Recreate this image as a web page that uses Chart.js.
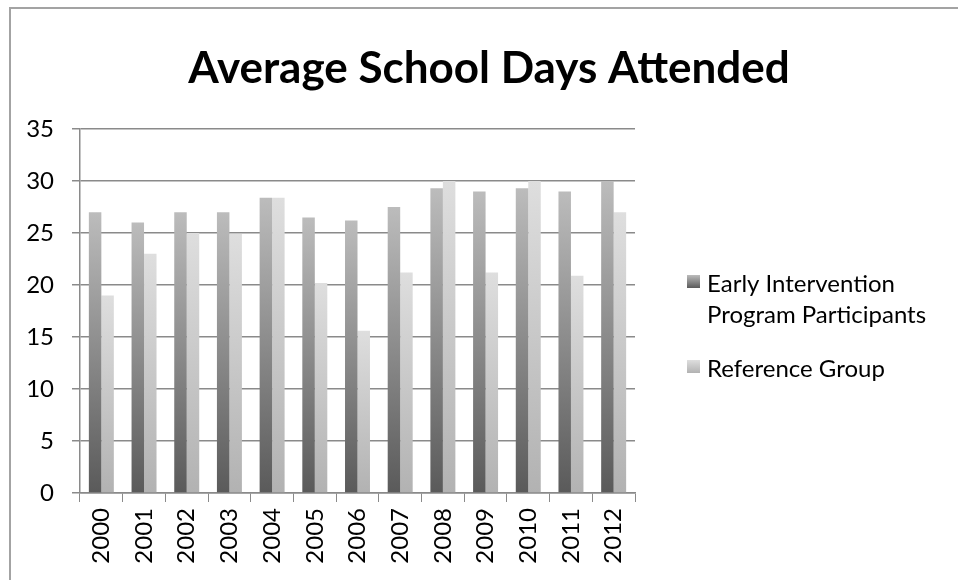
<!DOCTYPE html>
<html>
<head>
<meta charset="utf-8">
<script src="https://cdn.jsdelivr.net/npm/chart.js@4.4.1/dist/chart.umd.min.js"></script>
<style>
  html, body { margin: 0; padding: 0; background: #fff; overflow: hidden; }
  #wrap { width: 958px; height: 580px; position: relative; }
</style>
</head>
<body>
<div id="wrap"><canvas id="chart"></canvas></div>
<script>
const years = ['2000','2001','2002','2003','2004','2005','2006','2007','2008','2009','2010','2011','2012']
const earlyIntervention = [27, 26, 27, 27, 28.4, 26.5, 26.2, 27.5, 29.3, 29, 29.3, 29, 30]
const referenceGroup = [19, 23, 25, 24.9, 28.4, 20.2, 15.6, 21.2, 30, 21.2, 30, 20.9, 27]
const yTicks = [0, 5, 10, 15, 20, 25, 30, 35]
const seriesNames = [['Early Intervention', 'Program Participants'], ['Reference Group']]
const chartTitle = 'Average School Days Attended'

const FONT = 'Lato, "Open Sans", sans-serif'

// each bar gets its own top-to-bottom gradient, like the Excel style
function barFill(bottom, top) {
  return (c) => {
    const chart = c.chart
    if (!chart.chartArea || c.type !== 'data') return bottom
    const y = chart.scales.y
    const t = y.getPixelForValue(c.raw)
    const b = y.getPixelForValue(0)
    if (!isFinite(t) || !isFinite(b) || t === b) return bottom
    const g = chart.ctx.createLinearGradient(0, t, 0, b)
    g.addColorStop(0, top)
    g.addColorStop(1, bottom)
    return g
  }
}

const darkCols = ['#5a5a5a', '#bcbcbc']
const lightCols = ['#b2b2b2', '#dedede']

// frame, title and the two-line legend
const decor = {
  id: 'decor',
  beforeDraw(chart) {
    const g = chart.ctx
    g.save()
    g.strokeStyle = '#a3a3a3'
    g.lineWidth = 2
    g.beginPath()
    g.moveTo(10, 600)
    g.lineTo(10, 8)
    g.lineTo(980, 8)
    g.stroke()
    g.restore()
  },
  afterDraw(chart) {
    const g = chart.ctx
    g.save()
    g.fillStyle = '#000'
    g.font = 'bold 44px ' + FONT
    g.textAlign = 'center'
    g.textBaseline = 'alphabetic'
    g.fillText(chartTitle, 489, 83)

    g.font = '24px ' + FONT
    g.textAlign = 'left'
    const items = [
      { cols: darkCols, y: 275, lines: seriesNames[0] },
      { cols: lightCols, y: 360, lines: seriesNames[1] }
    ]
    items.forEach(it => {
      const gr = g.createLinearGradient(0, it.y, 0, it.y + 13)
      gr.addColorStop(0, it.cols[1])
      gr.addColorStop(1, it.cols[0])
      g.fillStyle = gr
      g.fillRect(687, it.y, 13, 13)
      g.fillStyle = '#000'
      it.lines.forEach((t, i) => g.fillText(t, 707, it.y + 17 + i * 31))
    })
    g.restore()
  }
}

new Chart(document.getElementById('chart'), {
  type: 'bar',
  data: {
    labels: years,
    datasets: [
      { label: seriesNames[0].join(' '), data: earlyIntervention, backgroundColor: barFill(darkCols[0], darkCols[1]) },
      { label: seriesNames[1].join(' '), data: referenceGroup, backgroundColor: barFill(lightCols[0], lightCols[1]) }
    ]
  },
  options: {
    responsive: true,
    maintainAspectRatio: false,
    animation: false,
    layout: { padding: { top: 129, left: 0, right: 323, bottom: 0 } },
    datasets: { bar: { categoryPercentage: 0.585, barPercentage: 1, borderWidth: 0 } },
    plugins: {
      legend: { display: false },
      title: { display: false },
      tooltip: { enabled: false }
    },
    scales: {
      x: {
        afterFit: (s) => { s.height = 87 },
        grid: { drawOnChartArea: false, drawTicks: true, tickLength: 9, color: '#8a8a8a', offset: true },
        border: { color: '#8a8a8a', width: 1.5 },
        ticks: { minRotation: 90, maxRotation: 90, padding: 6, color: '#000', font: { family: FONT, size: 24 } }
      },
      y: {
        min: 0,
        max: 35,
        afterFit: (s) => { s.width = 80 },
        afterBuildTicks: (s) => { s.ticks = yTicks.map(v => ({ value: v })) },
        grid: { color: '#8a8a8a', lineWidth: 1.5, tickLength: 8 },
        border: { color: '#8a8a8a', width: 1.5 },
        ticks: { padding: 18, color: '#000', font: { family: FONT, size: 24 } }
      }
    }
  },
  plugins: [decor]
})
</script>
</body>
</html>
